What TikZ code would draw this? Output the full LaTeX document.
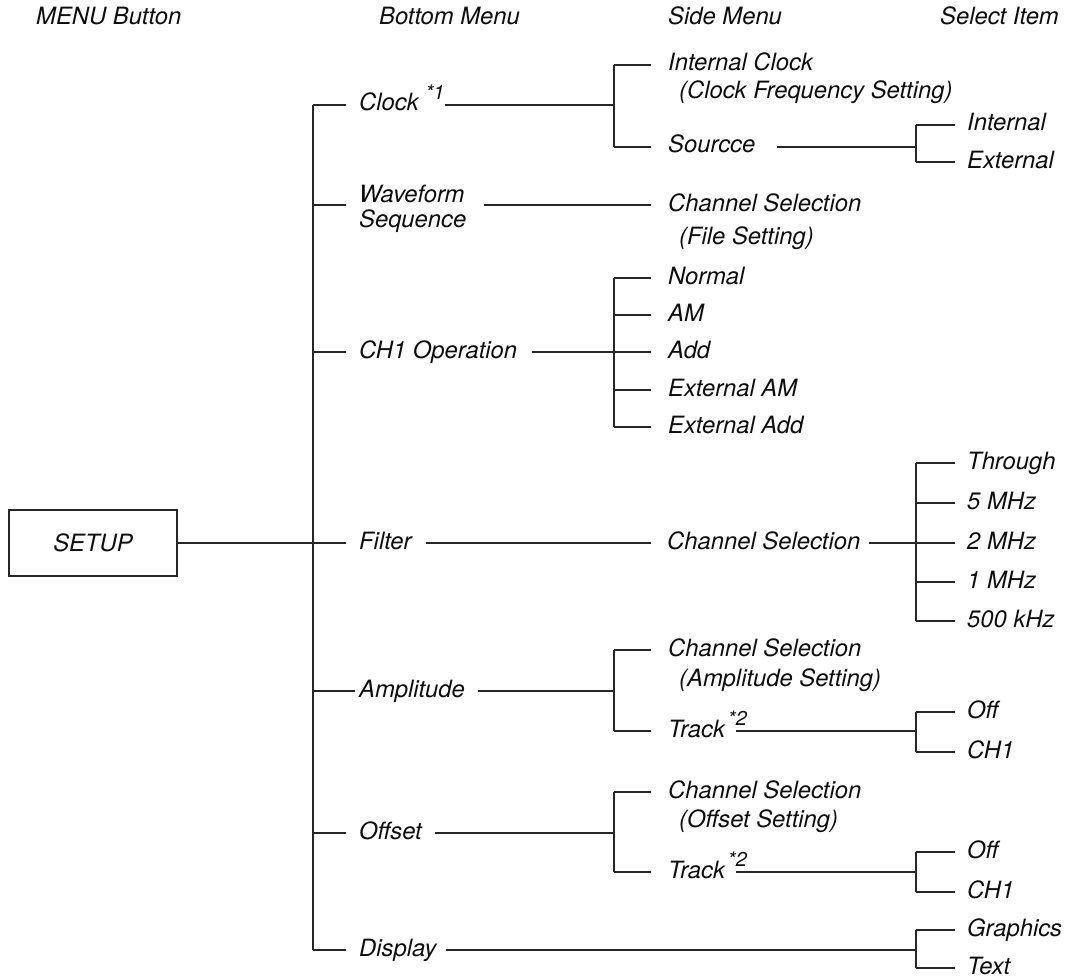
\documentclass[tikz,border=0pt]{standalone}
\usepackage{fontspec}
\setmainfont{TeX Gyre Heros}
\usetikzlibrary{calc}
\newcommand{\supmark}[1]{\raisebox{12pt}{\fontsize{20}{20}\selectfont #1}}
\begin{document}
\begin{tikzpicture}[x=1pt,y=-1pt,
  every node/.style={font=\fontsize{23.8}{25.5}\selectfont\itshape, text=black!95},
  lbl/.style={anchor=west, inner sep=0pt, text height=17pt, text depth=5pt},
  lbltwo/.style={anchor=west, inner sep=0pt, align=left},
  ln/.style={line width=1.1pt, draw=black!85},
  boxst/.style={draw=black!85, line width=1.1pt, minimum width=168pt, minimum height=66pt, inner sep=0pt}]
\useasboundingbox (0,0) rectangle (1070,979);
% headers
\node[lbl] (hmenu) at (36,19) {MENU Button};
\node[lbl] (hbottom) at (379,19) {Bottom Menu};
\node[lbl] (hside) at (668,19) {Side Menu};
\node[lbl] (hselect) at (940,19) {Select Item};
% menu button
\node[boxst] (setup) at (93,543) {SETUP};
% bracket x positions
\coordinate (trunk) at (313,0);
\coordinate (bA) at (614,0);
\coordinate (bB) at (916,0);
% bottom menu
\node[lbl] (clock) at (359,105) {Clock\hspace{7pt}\supmark{*1}};
\node[lbltwo] (wave) at (359,209) {Waveform\\Sequence};
\node[lbl] (ch1) at (359,352) {CH1 Operation};
\node[lbl] (filter) at (359,543) {Filter};
\node[lbl] (ampl) at (359,691) {Amplitude};
\node[lbl] (offset) at (359,833) {Offset};
\node[lbl] (display) at (359,950) {Display};
% side menu
\node[lbl] (iclk) at (668,65) {Internal Clock};
\node[lbl] (iclktwo) at (679,93) {(Clock Frequency Setting)};
\node[lbl] (src) at (668,147) {Sourcce};
\node[lbl] (wcs) at (668,205) {Channel Selection};
\node[lbl] (wcstwo) at (679,238) {(File Setting)};
\node[lbl] (normal) at (668,278) {Normal};
\node[lbl] (am) at (668,315) {AM};
\node[lbl] (add) at (668,352) {Add};
\node[lbl] (extam) at (668,390) {External AM};
\node[lbl] (extadd) at (668,427) {External Add};
\node[lbl] (fcs) at (667,543) {Channel Selection};
\node[lbl] (acs) at (668,650) {Channel Selection};
\node[lbl] (acstwo) at (679,680) {(Amplitude Setting)};
\node[lbl] (atrk) at (668,731) {Track\hspace{3pt}\supmark{*2}};
\node[lbl] (ocs) at (668,792) {Channel Selection};
\node[lbl] (ocstwo) at (679,821) {(Offset Setting)};
\node[lbl] (otrk) at (668,872) {Track\hspace{3pt}\supmark{*2}};
% select items
\node[lbl] (sint) at (967,125) {Internal};
\node[lbl] (sext) at (967,162) {External};
\node[lbl] (thr) at (967,463) {Through};
\node[lbl] (mfive) at (967,503) {5 MHz};
\node[lbl] (mtwo) at (967,543) {2 MHz};
\node[lbl] (mone) at (967,582) {1 MHz};
\node[lbl] (kfive) at (967,621) {500 kHz};
\node[lbl] (aoff) at (967,712) {Off};
\node[lbl] (achone) at (967,752) {CH1};
\node[lbl] (ooff) at (967,852) {Off};
\node[lbl] (ochone) at (967,892) {CH1};
\node[lbl] (gfx) at (967,930) {Graphics};
\node[lbl] (txt) at (967,968) {Text};
% SETUP to trunk
\draw[ln] (setup.east) -- ([xshift=-13pt]filter.west);
\draw[ln] (clock.west -| trunk) -- (display.west -| trunk);
\foreach \n in {clock,ch1,offset,display}
  \draw[ln] (\n.west -| trunk) -- ([xshift=-13pt]\n.west);
\draw[ln] (wcs.west -| trunk) -- ([xshift=-13pt,yshift=4pt]wave.west);
\draw[ln] (ampl.west -| trunk) -- ([xshift=-4pt]ampl.west);
% Clock
\draw[ln] (clock.east) -- (clock.east -| bA);
\draw[ln] (iclk.west -| bA) -- (src.west -| bA);
\foreach \n in {iclk,src}
  \draw[ln] (\n.west -| bA) -- ([xshift=-17pt]\n.west);
\draw[ln] ([xshift=22pt]src.east) -- (src.east -| bB);
\draw[ln] (sint.west -| bB) -- (sext.west -| bB);
\foreach \n in {sint,sext}
  \draw[ln] (\n.west -| bB) -- ([xshift=-12pt]\n.west);
% Waveform
\draw[ln] ([xshift=18pt,yshift=4pt]wave.east) -- ([xshift=-17pt]wcs.west);
% CH1 operation
\draw[ln] ([xshift=15pt]ch1.east) -- (ch1.east -| bA);
\draw[ln] (normal.west -| bA) -- (extadd.west -| bA);
\foreach \n in {normal,am,add,extam,extadd}
  \draw[ln] (\n.west -| bA) -- ([xshift=-17pt]\n.west);
% Filter
\draw[ln] ([xshift=14pt]filter.east) -- ([xshift=-16pt]fcs.west);
\draw[ln] ([xshift=8pt]fcs.east) -- (fcs.east -| bB);
\draw[ln] (thr.west -| bB) -- (kfive.west -| bB);
\foreach \n in {thr,mfive,mtwo,mone,kfive}
  \draw[ln] (\n.west -| bB) -- ([xshift=-12pt]\n.west);
% Amplitude
\draw[ln] ([xshift=13pt]ampl.east) -- (ampl.east -| bA);
\draw[ln] (acs.west -| bA) -- (atrk.west -| bA);
\foreach \n in {acs,atrk}
  \draw[ln] (\n.west -| bA) -- ([xshift=-17pt]\n.west);
\draw[ln] ([xshift=-11pt]atrk.east) -- (atrk.east -| bB);
\draw[ln] (aoff.west -| bB) -- (achone.west -| bB);
\foreach \n in {aoff,achone}
  \draw[ln] (\n.west -| bB) -- ([xshift=-12pt]\n.west);
% Offset
\draw[ln] ([xshift=13pt]offset.east) -- (offset.east -| bA);
\draw[ln] (ocs.west -| bA) -- (otrk.west -| bA);
\foreach \n in {ocs,otrk}
  \draw[ln] (\n.west -| bA) -- ([xshift=-17pt]\n.west);
\draw[ln] ([xshift=-11pt]otrk.east) -- (otrk.east -| bB);
\draw[ln] (ooff.west -| bB) -- (ochone.west -| bB);
\foreach \n in {ooff,ochone}
  \draw[ln] (\n.west -| bB) -- ([xshift=-12pt]\n.west);
% Display
\draw[ln] ([xshift=9pt]display.east) -- (display.east -| bB);
\draw[ln] (gfx.west -| bB) -- (txt.west -| bB);
\foreach \n in {gfx,txt}
  \draw[ln] (\n.west -| bB) -- ([xshift=-12pt]\n.west);
\end{tikzpicture}
\end{document}
